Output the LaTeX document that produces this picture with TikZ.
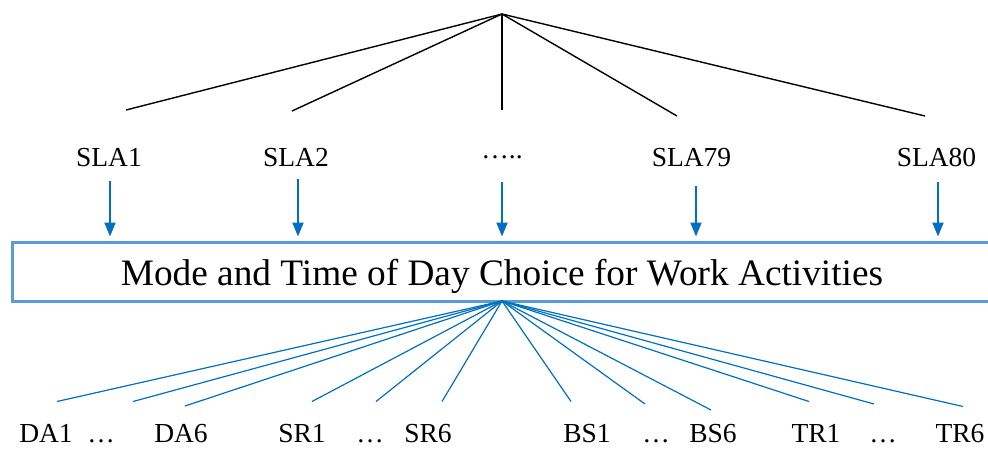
\documentclass[tikz,border=0pt]{standalone}
\usepackage{fontspec}
\setmainfont{Liberation Serif}
\usetikzlibrary{arrows.meta}
\definecolor{boxblue}{HTML}{5B9BD5}
\definecolor{lineblue}{HTML}{0070C0}
\begin{document}
\begin{tikzpicture}[x=1pt,y=-1pt,
  blk/.style={black, line width=1.4pt},
  bl/.style={lineblue, line width=1.2pt},
  arr/.style={lineblue, line width=2pt, -{Triangle[length=14pt,width=11pt]}, shorten >=4pt},
  slalabel/.style={anchor=base, inner sep=0pt, font=\fontsize{27.5}{30}\selectfont},
  botlabel/.style={anchor=base, inner sep=0pt, font=\fontsize{27.5}{30}\selectfont},
  mainbox/.style={draw=boxblue, line width=3pt, minimum width=980pt, minimum height=59pt,
    inner sep=0pt, text height=28.6pt, text depth=0pt, font=\fontsize{37.3}{40}\selectfont}]
\clip (0,0) rectangle (988,448);
% top fan
\coordinate (top) at (502,14);
\coordinate (e1) at (126,110);
\coordinate (e2) at (292,111);
\coordinate (e3) at (502,110);
\coordinate (e4) at (677,116);
\coordinate (e5) at (925,116);
\foreach \i in {1,...,5} \draw[blk] (top) -- (e\i);
% SLA labels
\node[slalabel] (sla1) at (109,166) {SLA1};
\node[slalabel] (sla2) at (296,166) {SLA2};
\node[slalabel] (sladots) at (502,158) {…..};
\node[slalabel] (sla79) at (691.5,166) {SLA79};
\node[slalabel] (sla80) at (936.5,166) {SLA80};
% main box
\node[mainbox] (box) at (502,271.5) {Mode and Time of Day Choice for Work Activities};
% arrows
\coordinate (a1) at (110,181);
\coordinate (a2) at (298,179);
\coordinate (a3) at (502,182);
\coordinate (a4) at (696,186);
\coordinate (a5) at (938,182);
\foreach \i in {1,...,5} \draw[arr] (a\i) -- (a\i |- box.north);
% bottom fan
\coordinate (bot) at (502,301);
\coordinate (b1) at (57,401.5);
\coordinate (b2) at (133,401.5);
\coordinate (b3) at (185,406);
\coordinate (b4) at (312,401.5);
\coordinate (b5) at (376,401.5);
\coordinate (b6) at (442,401.5);
\coordinate (b7) at (571,401.5);
\coordinate (b8) at (645,404);
\coordinate (b9) at (711,410);
\coordinate (b10) at (809,401.5);
\coordinate (b11) at (874,404);
\coordinate (b12) at (963,406.5);
\foreach \i in {1,...,12} \draw[bl] (bot) -- (b\i);
% bottom labels
\node[botlabel] (da1) at (46,442.5) {DA1};
\node[botlabel] (dadots) at (101,442.5) {…};
\node[botlabel] (da6) at (181,442.5) {DA6};
\node[botlabel] (sr1) at (302,442.5) {SR1};
\node[botlabel] (srdots) at (370,442.5) {…};
\node[botlabel] (sr6) at (428,442.5) {SR6};
\node[botlabel] (bs1) at (587,442.5) {BS1};
\node[botlabel] (bsdots) at (656,442.5) {…};
\node[botlabel] (bs6) at (713,442.5) {BS6};
\node[botlabel] (tr1) at (816,442.5) {TR1};
\node[botlabel] (trdots) at (883,442.5) {…};
\node[botlabel] (tr6) at (960,442.5) {TR6};
\end{tikzpicture}
\end{document}
